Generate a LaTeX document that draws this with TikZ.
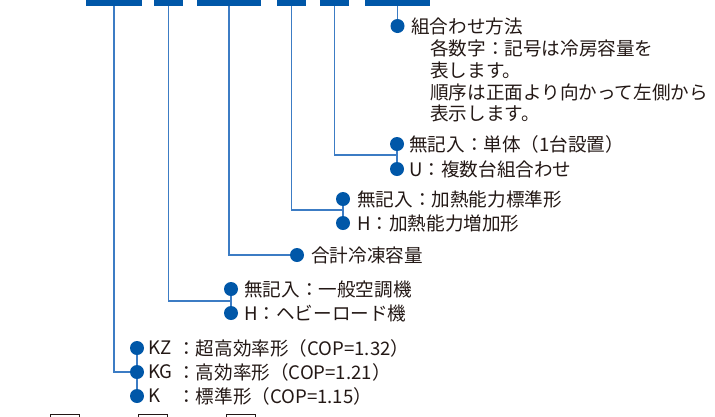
\documentclass[tikz,border=0pt]{standalone}
\usepackage{fontspec}
\setmainfont{Noto Sans CJK JP}
\definecolor{barblue}{HTML}{0057A8}
\definecolor{lineblue}{HTML}{3C7CC4}
\definecolor{txt}{HTML}{231815}
\begin{document}
\begin{tikzpicture}[x=1pt,y=-1pt,
  bar/.style={rectangle, fill=barblue, draw=none, inner sep=0pt, minimum height=12pt},
  dot/.style={circle, fill=barblue, draw=none, inner sep=0pt, minimum size=14pt},
  lbl/.style={anchor=west, inner sep=0pt, text=txt, font=\fontsize{18.6}{21.8}\selectfont},
  conn/.style={draw=lineblue, line width=1.2pt},
  sq/.style={draw=txt, line width=0.8pt}]
\useasboundingbox (0,0) rectangle (715,416);
\clip (0,0) rectangle (715,416);
% bars
\node[bar, minimum width=56pt] (bar1) at (114,0) {};
\node[bar, minimum width=29pt] (bar2) at (168.5,0) {};
\node[bar, minimum width=64pt] (bar3) at (229,0) {};
\node[bar, minimum width=29pt] (bar4) at (291.5,0) {};
\node[bar, minimum width=29pt] (bar5) at (334.5,0) {};
\node[bar, minimum width=65pt] (bar6) at (397.5,0) {};
% bullets
\node[dot] (g6) at (397.5,26) {};
\node[dot] (g5a) at (397,144) {};
\node[dot] (g5b) at (397,169) {};
\coordinate (j5) at (397,155);
\node[dot] (g4a) at (343,199) {};
\node[dot] (g4b) at (343,223) {};
\coordinate (j4) at (343,210);
\node[dot] (g3) at (297,255) {};
\node[dot] (g2a) at (231,289) {};
\node[dot] (g2b) at (231,313) {};
\coordinate (j2) at (231,301);
\node[dot] (g1a) at (137,348) {};
\node[dot] (g1b) at (137,372) {};
\node[dot] (g1c) at (137,396) {};
% connectors
\draw[conn] (bar6.south) -- (g6);
\draw[conn] (bar5.south) |- (j5);
\draw[conn] (g5a) -- (g5b);
\draw[conn] (bar4.south) |- (j4);
\draw[conn] (g4a) -- (g4b);
\draw[conn] (bar3.south) |- (g3);
\draw[conn] (bar2.south) |- (j2);
\draw[conn] (g2a) -- (g2b);
\draw[conn] (bar1.south) |- (g1b);
\draw[conn] (g1a) -- (g1b);
\draw[conn] (g1b) -- (g1c);
% labels
\node[lbl] (t6) at (411,26) {組合わせ方法};
\node[lbl, align=left] (t6d) at (430,81) {各数字：記号は冷房容量を\\表します。\\順序は正面より向かって左側から\\表示します。};
\node[lbl] (t5a) at (409,144) {無記入：単体（1台設置）};
\node[lbl] (t5b) at (409,169) {U：複数台組合わせ};
\node[lbl] (t4a) at (357,199) {無記入：加熱能力標準形};
\node[lbl] (t4b) at (357,223) {H：加熱能力増加形};
\node[lbl] (t3) at (311,255) {合計冷凍容量};
\node[lbl] (t2a) at (244,289) {無記入：一般空調機};
\node[lbl] (t2b) at (244,313) {H：ヘビーロード機};
\node[lbl] (k1) at (148,348) {KZ};
\node[lbl] (k2) at (148,372) {KG};
\node[lbl] (k3) at (148,396) {K};
\node[lbl] (t1a) at (177,348) {：超高効率形（COP=1.32）};
\node[lbl] (t1b) at (177,372) {：高効率形（COP=1.21）};
\node[lbl] (t1c) at (177,396) {：標準形（COP=1.15）};
% partial squares at bottom
\draw[sq] (50,414) rectangle (79,444);
\draw[sq] (138,414) rectangle (167,444);
\draw[sq] (226,414) rectangle (255,444);
\end{tikzpicture}
\end{document}
